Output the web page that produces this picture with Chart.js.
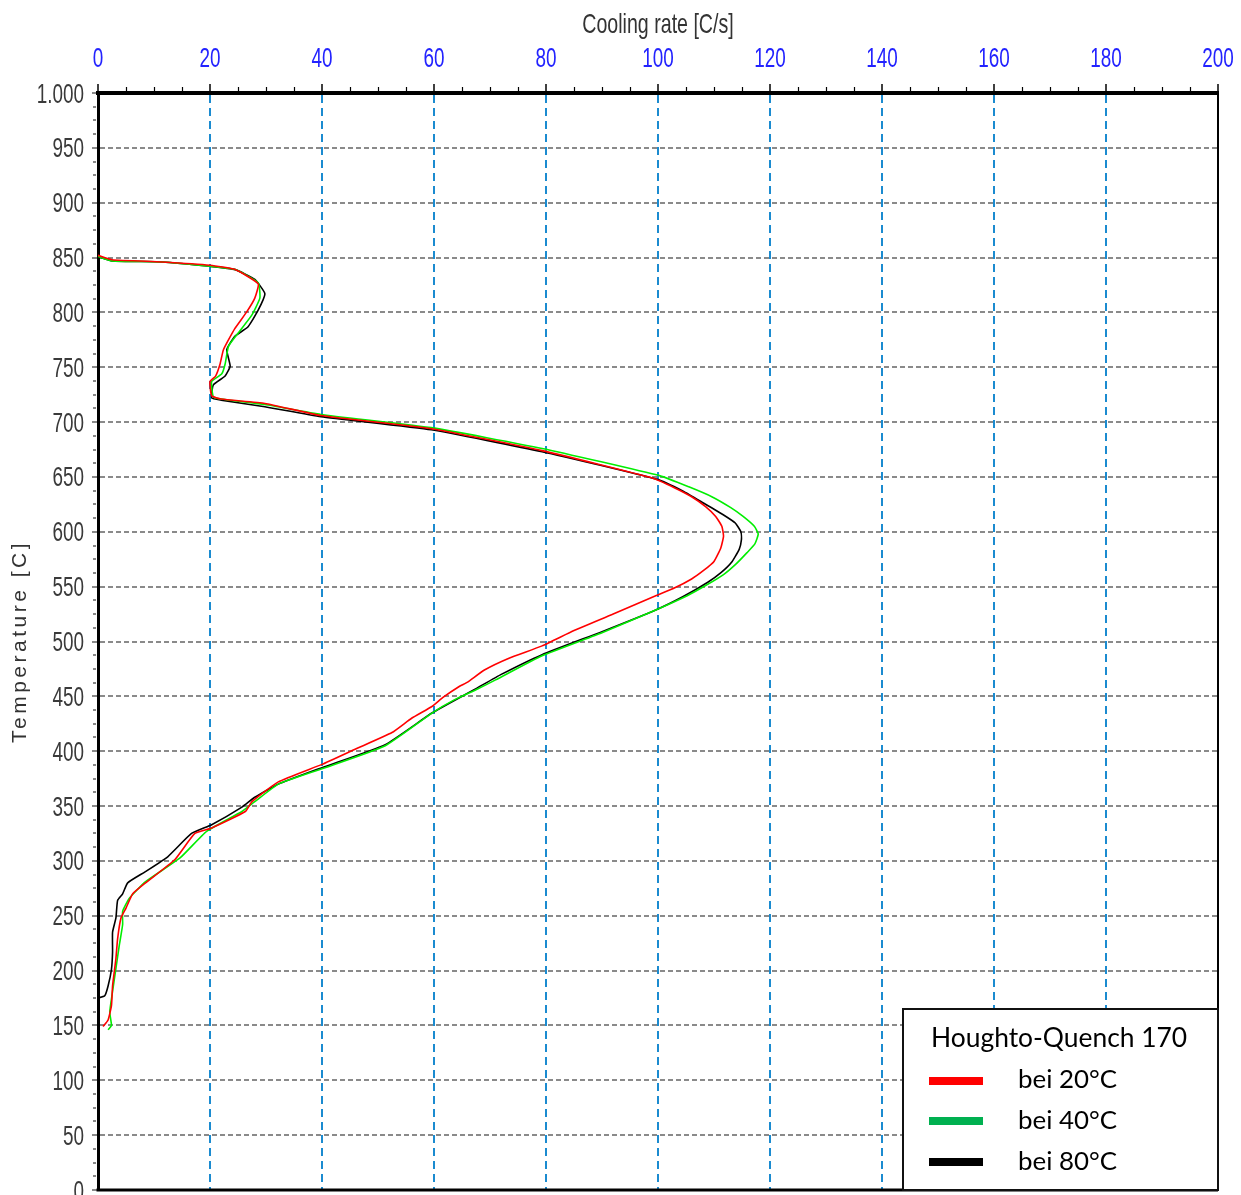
<!DOCTYPE html>
<html>
<head>
<meta charset="utf-8">
<script src="https://cdn.jsdelivr.net/npm/chart.js@4.4.1/dist/chart.umd.min.js"></script>
<style>
html,body{margin:0;padding:0;background:#fff;}
#wrap{width:1241px;height:1195px;position:relative;}
</style>
</head>
<body>
<div id="wrap"><canvas id="c"></canvas></div>
<script>
// ---- data (cooling rate [C/s] vs temperature [C]) ----
const seriesLabels = ['bei 20°C', 'bei 40°C', 'bei 80°C'];
const legendTitle = 'Houghto-Quench 170';
const xAxisTitle = 'Cooling rate [C/s]';
const yAxisTitle = 'Temperature [C]';

const rate20 = [0, 2.5, 11.4, 20, 24.5, 28.6, 28, 26.5, 24.4, 22.4, 21.8, 21, 20, 20.3, 22, 29.8, 39.8, 59.5, 79.3, 99, 103, 106, 108.5, 110.3, 111.4, 111.7, 111.2, 110, 108.2, 106, 103, 99.7, 92, 85, 79.3, 73.5, 69, 66, 64.5, 61.6, 59.7, 56, 52.5, 46, 40, 32.2, 27.5, 26.3, 20.3, 17.3, 13.7, 8.5, 6.2, 5, 4.1, 3.5, 3.2, 2.6, 2.4, 1.8, 0.9];
const temp20 = [852, 848, 846, 843, 839, 826, 813, 800, 785, 766, 753, 742, 737, 724, 721, 717, 706, 694, 674, 649, 640, 632, 623, 614, 605, 596, 585, 573, 565, 557, 549, 542, 525, 510, 496, 485, 474, 463, 459, 449, 441, 430, 417, 402, 388, 372, 354, 345, 330, 325, 301, 280, 270, 257, 248, 229, 211, 186, 168, 155, 149];

const rate40 = [0, 2.5, 11.4, 20, 24.5, 28.6, 28.9, 27.4, 25, 23.3, 22.7, 22.1, 20.3, 20.6, 22, 29.8, 39.8, 59.5, 79.3, 100.4, 105.5, 109.6, 113, 115.2, 117.2, 117.9, 117.3, 115.9, 114, 111.7, 108.5, 105.3, 99.7, 90, 79.3, 71, 67.5, 63.7, 59.7, 51.3, 40, 32.2, 28, 25.7, 19.4, 14.7, 8.5, 5.6, 4.4, 4.4, 3.8, 3.2, 2.6, 2.1, 2.4, 1.8];
const temp40 = [851, 847, 846, 842, 839, 827, 813, 797, 781, 769, 753, 744, 737, 723, 721, 716, 707, 695, 676, 651, 641, 632, 622, 614, 605, 598, 589, 581, 571, 561, 551, 542, 529, 508, 487, 465, 456, 447, 435, 405, 384, 370, 354, 345, 327, 303, 281, 266, 254, 242, 223, 202, 181, 162, 150, 146];

const rate80 = [0, 2.5, 11.4, 20, 24.5, 28, 29.8, 28.6, 26.8, 24.4, 23, 23.6, 22.7, 20.6, 20.3, 22, 29.8, 39.8, 59.5, 79.3, 99.7, 104.5, 108.2, 111.5, 113.8, 114.8, 114.9, 114.5, 113.1, 111.3, 108.9, 104.5, 99.7, 90, 79.3, 72, 67.5, 59.7, 51.3, 40, 32.2, 28, 25.7, 20.3, 16.7, 12.5, 8.4, 5.3, 4.4, 3.5, 3.2, 2.6, 2.6, 2.4, 1.8, 1.2, 0];
const temp80 = [851, 847, 846, 842, 839, 830, 817, 802, 787, 778, 766, 751, 742, 734, 722, 720, 714, 705, 693, 673, 648, 637, 626, 616, 608, 600, 593, 584, 572, 563, 554, 541, 529, 509, 488, 470, 457, 435, 406, 385, 370, 358, 349, 333, 325, 304, 290, 280, 270, 264, 248, 235, 217, 201, 186, 177, 175];

const plotColors = ['#FF0000', '#00EE00', '#000000'];
const legendColors = ['#FF0000', '#00B050', '#000000'];

const xMin = 0, xMax = 200, xStep = 20;
const yMin = 0, yMax = 1000, yStep = 50;

const toPts = (r, t) => r.map((v, i) => ({x: v, y: t[i]}));

const AXF = "'Liberation Sans', Arial, sans-serif";
const SQUEEZE = 0.7;

function narrowText(ctx, text, x, y, align) {
  ctx.save();
  ctx.translate(x, y);
  ctx.scale(SQUEEZE, 1);
  ctx.textAlign = align;
  ctx.textBaseline = 'alphabetic';
  ctx.fillText(text, 0, 0);
  ctx.restore();
}

const framePlugin = {
  id: 'frame',
  afterDraw(chart) {
    const {ctx, chartArea: a, scales} = chart;
    ctx.save();
    // bottom and right frame
    ctx.strokeStyle = '#000';
    ctx.lineWidth = 3;
    ctx.beginPath();
    ctx.moveTo(a.left - 1.5, a.bottom);
    ctx.lineTo(a.right, a.bottom);
    ctx.stroke();
    ctx.lineWidth = 2;
    ctx.beginPath();
    ctx.moveTo(a.right, a.top);
    ctx.lineTo(a.right, a.bottom);
    ctx.stroke();
    // minor ticks on top axis
    ctx.lineWidth = 1.2;
    ctx.strokeStyle = '#000';
    for (let v = xMin; v <= xMax; v += 5) {
      if (v % xStep === 0) continue;
      const px = Math.round(scales.x.getPixelForValue(v)) + 0.5;
      ctx.beginPath();
      ctx.moveTo(px, a.top - 2);
      ctx.lineTo(px, a.top - 6);
      ctx.stroke();
    }
    // minor ticks on left axis
    ctx.strokeStyle = '#888';
    ctx.lineWidth = 2;
    for (let v = yMin; v <= yMax; v += 12.5) {
      if (v % yStep === 0) continue;
      const py = Math.round(scales.y.getPixelForValue(v));
      ctx.beginPath();
      ctx.moveTo(a.left - 2, py);
      ctx.lineTo(a.left - 5, py);
      ctx.stroke();
    }
    // tick labels (narrow) from the library's scales
    ctx.font = '27px ' + AXF;
    ctx.fillStyle = '#2323FF';
    scales.x.ticks.forEach(t => {
      narrowText(ctx, String(t.value), scales.x.getPixelForValue(t.value), 67, 'center');
    });
    ctx.fillStyle = '#3a3a3a';
    scales.y.ticks.forEach(t => {
      const lab = t.value === 1000 ? '1.000' : String(t.value);
      narrowText(ctx, lab, 84, scales.y.getPixelForValue(t.value) + 9.5, 'right');
    });
    // x axis title
    ctx.font = '28px ' + AXF;
    ctx.fillStyle = '#333';
    narrowText(ctx, xAxisTitle, (a.left + a.right) / 2, 33, 'center');

    // y axis title with letter spacing
    ctx.save();
    ctx.translate(20, (a.top + a.bottom) / 2);
    ctx.rotate(-Math.PI / 2);
    ctx.font = "21px " + AXF;
    try { ctx.letterSpacing = '3.5px'; } catch (e) {}
    ctx.fillStyle = '#333';
    ctx.textAlign = 'center';
    ctx.textBaseline = 'middle';
    ctx.fillText(yAxisTitle, 0, 0);
    ctx.restore();

    // legend box
    const bx = 903, by = 1009, bw = 1218 - 903, bh = 1190 - 1009;
    ctx.fillStyle = '#fff';
    ctx.fillRect(bx, by, bw, bh);
    ctx.strokeStyle = '#111';
    ctx.lineWidth = 2;
    ctx.strokeRect(bx, by, bw, bh);
    const LF = "Lato, 'Open Sans', 'Noto Sans', sans-serif";
    ctx.fillStyle = '#000';
    ctx.textBaseline = 'middle';
    ctx.textAlign = 'left';
    ctx.font = '26px ' + LF;
    let w = ctx.measureText(legendTitle).width;
    let fs = 26 * 256 / w;
    ctx.font = fs.toFixed(1) + 'px ' + LF;
    ctx.fillText(legendTitle, 931, 1038);
    ctx.font = '26px ' + LF;
    w = ctx.measureText(seriesLabels[0]).width;
    fs = 26 * 99 / w;
    ctx.font = fs.toFixed(1) + 'px ' + LF;
    const rows = [1080, 1121, 1162];
    seriesLabels.forEach((lab, i) => {
      ctx.fillStyle = legendColors[i];
      ctx.fillRect(929, rows[i] - 4 + (i === 0 ? 1 : 0), 54, 8);
      ctx.fillStyle = '#000';
      ctx.fillText(lab, 1018, rows[i]);
    });
    ctx.restore();
  }
};

const datasets = [
  {label: seriesLabels[0], data: toPts(rate20, temp20), borderColor: plotColors[0]},
  {label: seriesLabels[1], data: toPts(rate40, temp40), borderColor: plotColors[1]},
  {label: seriesLabels[2], data: toPts(rate80, temp80), borderColor: plotColors[2]}
].map(d => Object.assign(d, {showLine: true, pointRadius: 0, borderWidth: 1.6, tension: 0.15, fill: false}));

new Chart(document.getElementById('c'), {
  type: 'scatter',
  data: {datasets},
  options: {
    responsive: true,
    maintainAspectRatio: false,
    animation: false,
    layout: {padding: {left: 0, top: 0, right: 23, bottom: 5}},
    plugins: {legend: {display: false}, tooltip: {enabled: false}},
    scales: {
      x: {
        type: 'linear', position: 'top', min: xMin, max: xMax,
        afterFit: s => { s.height = 93; s.paddingLeft = 0; s.paddingRight = 0; },
        ticks: {stepSize: xStep, display: false},
        title: {display: false},
        grid: {
          color: c => (c.tick && (c.tick.value === xMin || c.tick.value === xMax)) ? 'rgba(0,0,0,0)' : '#1B8BD0',
          lineWidth: 2, tickLength: 9, tickColor: '#000', tickWidth: 1.5, drawTicks: true
        },
        border: {display: true, color: '#000', width: 4, dash: [8, 5]}
      },
      y: {
        type: 'linear', position: 'left', min: yMin, max: yMax,
        afterFit: s => { s.width = 98; s.paddingTop = 0; s.paddingBottom = 0; },
        ticks: {stepSize: yStep, display: false},
        title: {display: false},
        grid: {
          color: c => (c.tick && (c.tick.value === yMin || c.tick.value === yMax)) ? 'rgba(0,0,0,0)' : '#8A8A8A',
          lineWidth: 2, tickLength: 6, tickColor: '#8A8A8A', drawTicks: true
        },
        border: {display: true, color: '#000', width: 3, dash: [5, 3]}
      }
    }
  },
  plugins: [framePlugin]
});
</script>
</body>
</html>
